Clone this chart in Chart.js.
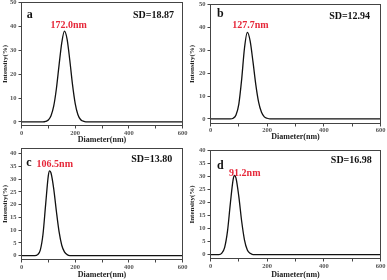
<!DOCTYPE html>
<html lang="en">
<head>
  <meta charset="UTF-8" />
  <title>Particle size distributions</title>
  <script src="https://cdn.jsdelivr.net/npm/chart.js"></script>
  <style>
    body {
      margin: 0;
      background: #fff;
      width: 387px;
      height: 280px;
      overflow: hidden;
      position: relative;
    }
    canvas {
      position: absolute;
    }
  </style>
</head>
<body>
  <canvas id="chartA" width="192" height="148" style="left:0;top:0"></canvas>
  <canvas id="chartB" width="201" height="148" style="left:186px;top:0"></canvas>
  <canvas id="chartC" width="192" height="140" style="left:0;top:140px"></canvas>
  <canvas id="chartD" width="201" height="140" style="left:186px;top:140px"></canvas>

  <script>
    // data (diameter in nm, intensity in %)
    const diamA = [0, 80, 90, 100, 110, 120, 130, 140, 150, 160, 170, 180, 190, 200, 210, 220, 230, 240, 600];
    const intA  = [0, 0, 0.2, 0.8, 2.6, 6.6, 13.9, 23.8, 33.1, 38.0, 34.6, 25.8, 15.7, 7.8, 3.1, 1.0, 0.3, 0, 0];

    const diamB = [0, 70, 80, 90, 100, 110, 120, 130, 140, 150, 160, 170, 180, 190, 200, 210, 600];
    const intB  = [0, 0, 0.3, 1.7, 6.5, 17.3, 31.0, 37.8, 34.0, 24.9, 14.9, 7.2, 2.9, 0.9, 0.3, 0, 0];

    const diamC = [0, 50, 60, 70, 80, 90, 100, 105, 110, 120, 130, 140, 150, 160, 170, 180, 600];
    const intC  = [0, 0, 0.4, 2.2, 8.3, 20.1, 31.4, 33.2, 32.4, 26.3, 17.4, 9.4, 4.1, 1.5, 0.4, 0, 0];

    const diamD = [0, 30, 40, 50, 60, 70, 80, 85, 90, 100, 110, 120, 130, 140, 150, 600];
    const intD  = [0, 0, 0.6, 2.8, 9.0, 19.6, 28.9, 30.4, 29.4, 22.3, 12.8, 5.6, 1.8, 0.5, 0, 0];

    const xTicks = [0, 100, 200, 300, 400, 500, 600];
    const xTickLabels = ['0', '', '200', '', '400', '', '600'];
    const yTicksTop = [0, 10, 20, 30, 40, 50];
    const yTicksBottom = [0, 5, 10, 15, 20, 25, 30, 35, 40];

    const panelLetters = ['a', 'b', 'c', 'd'];
    const peakLabels = ['172.0nm', '127.7nm', '106.5nm', '91.2nm'];
    const sdLabels = ['SD=18.87', 'SD=12.94', 'SD=13.80', 'SD=16.98'];

    const SERIF = '"Liberation Serif", "Times New Roman", serif';
    const TICK_SIZE = 6.5;
    const XTITLE_SIZE = 8;
    const YTITLE_SIZE = 7;

    // draws the closed frame and the text notes inside each plot
    const framePlugin = {
      id: 'frame',
      afterDatasetsDraw(chart, args, opts) {
        const { ctx, chartArea: a, scales } = chart;
        ctx.save();
        ctx.strokeStyle = '#444';
        ctx.lineWidth = 1;
        ctx.strokeRect(a.left, a.top, a.right - a.left, a.bottom - a.top);
        ctx.textBaseline = 'middle';
        ctx.textAlign = 'center';
        (opts.notes || []).forEach(n => {
          ctx.font = 'bold ' + n.size + 'px ' + SERIF;
          ctx.fillStyle = n.color;
          ctx.fillText(n.text, scales.x.getPixelForValue(n.x), scales.y.getPixelForValue(n.y));
        });
        ctx.restore();
      }
    };

    function makePanel(id, diam, intensity, yTicks, box, notes) {
      const yWidth = box.area[0] - box.left;
      const xBottom = box.xTitleY + XTITLE_SIZE * 0.6;
      const xHeight = xBottom - box.area[3];

      new Chart(document.getElementById(id), {
        type: 'line',
        data: {
          datasets: [{
            data: diam.map((d, i) => ({ x: d, y: intensity[i] })),
            borderColor: '#111',
            borderWidth: 1.3,
            pointRadius: 0,
            cubicInterpolationMode: 'monotone',
            fill: false
          }]
        },
        options: {
          responsive: false,
          animation: false,
          events: [],
          layout: {
            padding: {
              left: 0,
              top: box.area[1] - box.top,
              right: box.left + box.w - box.area[2],
              bottom: Math.max(0, box.top + box.h - xBottom)
            }
          },
          plugins: {
            legend: { display: false },
            tooltip: { enabled: false },
            frame: { notes: notes }
          },
          scales: {
            x: {
              type: 'linear',
              min: 0,
              max: 600,
              afterBuildTicks: ax => { ax.ticks = xTicks.map(v => ({ value: v })); },
              afterFit: s => { s.height = xHeight; s.paddingLeft = 0; s.paddingRight = 0; },
              ticks: {
                autoSkip: false,
                maxRotation: 0,
                padding: box.xTickPad,
                color: '#555',
                font: { family: SERIF, size: TICK_SIZE, weight: 'bold' },
                callback: (v, i) => xTickLabels[i]
              },
              grid: { drawOnChartArea: false, tickLength: 3, color: '#444' },
              border: { color: '#444' },
              title: {
                display: true,
                text: 'Diameter(nm)',
                color: '#222',
                padding: 0,
                font: { family: SERIF, size: XTITLE_SIZE, weight: 'bold' }
              }
            },
            y: {
              min: box.yMin,
              max: box.yMax,
              afterBuildTicks: ax => { ax.ticks = yTicks.map(v => ({ value: v })); },
              afterFit: s => { s.width = yWidth; s.paddingTop = 0; s.paddingBottom = 0; },
              ticks: {
                padding: 2,
                color: '#555',
                font: { family: SERIF, size: TICK_SIZE, weight: 'bold' }
              },
              grid: { drawOnChartArea: false, tickLength: 3, color: '#444' },
              border: { color: '#444' },
              title: {
                display: true,
                text: 'Intensity(%)',
                color: '#222',
                padding: { top: Math.max(0, box.yTitleX - box.left - YTITLE_SIZE * 0.6), bottom: 0 },
                font: { family: SERIF, size: YTITLE_SIZE, weight: 'bold' }
              }
            }
          }
        },
        plugins: [framePlugin]
      });
    }

    function notesFor(i, letterPos, peakPos, sdPos) {
      return [
        { text: panelLetters[i], x: letterPos[0], y: letterPos[1], size: 12, color: '#111' },
        { text: peakLabels[i], x: peakPos[0], y: peakPos[1], size: 10, color: '#e6283a' },
        { text: sdLabels[i], x: sdPos[0], y: sdPos[1], size: 10, color: '#111' }
      ];
    }

    makePanel('chartA', diamA, intA, yTicksTop,
      { left: 0, top: 0, w: 192, h: 148, area: [21.5, 2.5, 182.5, 125.5], xTitleY: 140, xTickPad: 1, yTitleX: 5, yMin: -1.5, yMax: 50 },
      notesFor(0, [31, 44.6], [176, 40.4], [492, 44.6]));

    makePanel('chartB', diamB, intB, yTicksTop,
      { left: 186, top: 0, w: 201, h: 148, area: [210.5, 4.5, 380.5, 123.5], xTitleY: 137, xTickPad: 0, yTitleX: 192, yMin: -2, yMax: 50 },
      notesFor(1, [35, 46], [141, 40.8], [491, 45]));

    makePanel('chartC', diamC, intC, yTicksBottom,
      { left: 0, top: 140, w: 192, h: 140, area: [21.5, 148.5, 182.5, 259.5], xTitleY: 275, xTickPad: 1, yTitleX: 5, yMin: -1.5, yMax: 42 },
      notesFor(2, [28, 36.5], [124, 35.6], [485, 37.8]));

    makePanel('chartD', diamD, intD, yTicksBottom,
      { left: 186, top: 140, w: 201, h: 140, area: [210.5, 150.5, 380.5, 258.5], xTitleY: 275, xTickPad: 1, yTitleX: 192, yMin: -1.5, yMax: 40 },
      notesFor(3, [35, 34.2], [121, 31.3], [497, 36.2]));
  </script>
</body>
</html>
